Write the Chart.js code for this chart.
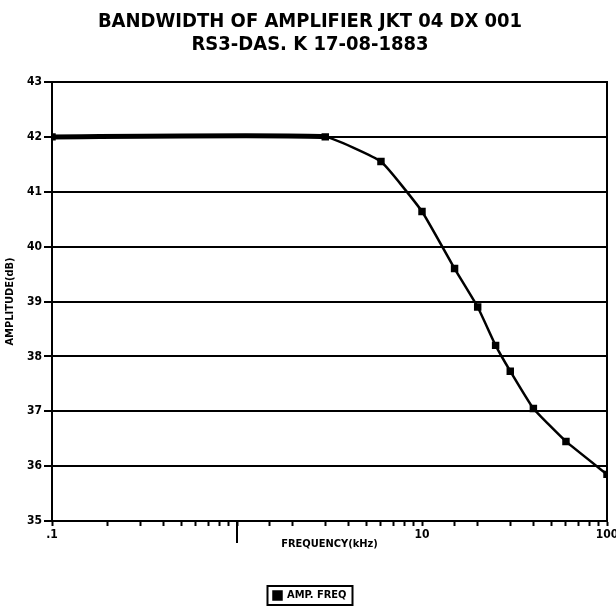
<!DOCTYPE html>
<html>
<head>
<meta charset="utf-8">
<script src="https://cdn.jsdelivr.net/npm/chart.js@4"></script>
<style>
  html, body { margin: 0; padding: 0; background: #fff; }
  #wrap { width: 616px; height: 611px; }
</style>
</head>
<body>
<div id="wrap"><canvas id="chart" width="616" height="611"></canvas></div>
<script>
// --- Data ---
const freqs = [0.1, 3, 6, 10, 15, 20, 25, 30, 40, 60, 100];
const gains = [42, 42, 41.55, 40.64, 39.6, 38.9, 38.2, 37.73, 37.05, 36.45, 35.85];
const freqLabels = { 0.1: '.1', 10: '10', 100: '100' };
const titleLines = ['BANDWIDTH OF AMPLIFIER JKT 04 DX 001', 'RS3-DAS. K 17-08-1883'];
const seriesName = 'AMP. FREQ';

const FONT = '"Liberation Sans Narrow", "DejaVu Sans Condensed", sans-serif';

// plot frame + legend box + long decade tick
const extras = {
    id: 'extras',
    afterDraw(chart) {
        const { ctx, chartArea: a } = chart;
        ctx.save();
        ctx.strokeStyle = '#000';
        ctx.lineWidth = 2;
        ctx.strokeRect(a.left, a.top, a.right - a.left, a.bottom - a.top);
        // long tick at the unlabeled decade
        const x = chart.scales.x.getPixelForValue(1);
        ctx.beginPath();
        ctx.moveTo(x, a.bottom);
        ctx.lineTo(x, a.bottom + 22);
        ctx.stroke();
        // box round the legend
        const lg = chart.legend;
        if (lg && lg.legendHitBoxes.length) {
            const h = lg.legendHitBoxes[0];
            ctx.lineWidth = 2;
            ctx.strokeRect(h.left - 6, h.top - 4, h.width + 12, h.height + 8);
        }
        ctx.restore();
    }
};

const ctx = document.getElementById('chart').getContext('2d');
new Chart(ctx, {
    type: 'line',
    data: {
        datasets: [{
            label: seriesName,
            data: freqs.map((f, i) => ({ x: f, y: gains[i] })),
            borderColor: '#000',
            backgroundColor: '#000',
            borderWidth: 2.5,
            pointStyle: 'rect',
            pointRadius: 3.5,
            tension: 0.12,
            segment: {
                borderWidth: c => c.p0DataIndex === 0 ? 5 : 2.5
            }
        }]
    },
    plugins: [extras],
    options: {
        responsive: false,
        animation: false,
        layout: { padding: { left: 4, right: 0, top: 0, bottom: 0 } },
        plugins: {
            title: {
                display: true,
                text: titleLines,
                color: '#000',
                font: { family: FONT, size: 20, weight: 'bold', lineHeight: 1.15 },
                padding: { top: 10, bottom: 26 }
            },
            legend: {
                position: 'bottom',
                labels: {
                    color: '#000',
                    usePointStyle: true,
                    pointStyle: 'rect',
                    boxWidth: 8,
                    boxHeight: 8,
                    font: { family: FONT, size: 11, weight: 'bold' },
                    padding: 8
                }
            },
            tooltip: { enabled: false }
        },
        scales: {
            x: {
                type: 'logarithmic',
                min: 0.1,
                max: 100,
                grid: {
                    drawOnChartArea: false,
                    color: '#000',
                    tickColor: '#000',
                    tickLength: 5,
                    tickWidth: 2
                },
                border: { color: '#000', width: 2 },
                ticks: {
                    autoSkip: false,
                    maxRotation: 0,
                    color: '#000',
                    padding: 2,
                    font: { family: FONT, size: 12, weight: 'bold' },
                    callback: v => freqLabels[v] || ''
                },
                title: {
                    display: true,
                    text: 'FREQUENCY(kHz)',
                    color: '#000',
                    font: { family: FONT, size: 11, weight: 'bold' },
                    padding: { top: 2, bottom: 31 }
                },
                afterFit: s => { s.height = 61; s.paddingRight = 9; s.paddingLeft = 0; }
            },
            y: {
                min: 35,
                max: 43,
                ticks: {
                    stepSize: 1,
                    color: '#000',
                    padding: 2,
                    font: { family: FONT, size: 12, weight: 'bold' }
                },
                grid: {
                    color: '#000',
                    lineWidth: 2,
                    tickLength: 8,
                    tickColor: '#000'
                },
                border: { color: '#000', width: 2 },
                title: {
                    display: true,
                    text: 'AMPLITUDE(dB)',
                    color: '#000',
                    font: { family: FONT, size: 11, weight: 'bold' },
                    padding: { top: 0, bottom: 2 }
                },
                afterFit: s => { s.width = 48; }
            }
        }
    }
});
</script>
</body>
</html>
